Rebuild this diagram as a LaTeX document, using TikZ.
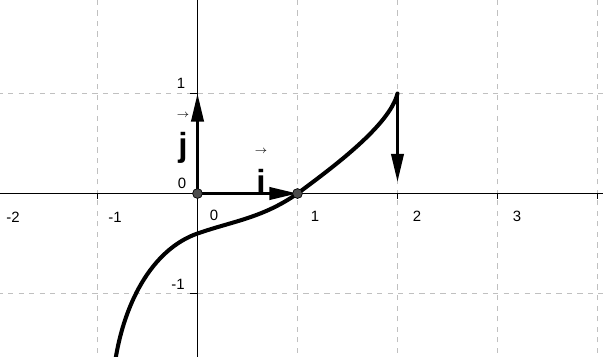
\documentclass[tikz,border=0pt]{standalone}
\usepackage{amsmath}
\usepackage{fontspec}
\setmainfont{Liberation Sans}
\usetikzlibrary{arrows.meta}
\newcommand{\veclabel}[1]{\ensuremath{\overset{\raisebox{5pt}{\fontsize{6.5}{7}\selectfont$\rightarrow$}}{\textbf{#1}}}}
\definecolor{gridgray}{RGB}{192,192,192}
\definecolor{dotgray}{RGB}{77,77,77}
\tikzset{
  gridline/.style={gridgray,line width=0.6pt,dash pattern=on 3pt off 3pt},
  axisline/.style={black,line width=1.1pt},
  ticklabel/.style={font=\fontsize{8.5}{10}\selectfont,inner sep=0pt},
  veclab/.style={font=\fontsize{19}{22}\selectfont,inner sep=0pt},
  vecarrow/.style={line width=1.7pt,-{Triangle[length=16pt,width=7pt]}},
  graphcurve/.style={line width=2.3pt,line cap=round,line join=round},
  ptdot/.style={circle,fill=dotgray,draw=black,line width=0.4pt,inner sep=0pt,minimum size=5.6pt}
}
\begin{document}
\begin{tikzpicture}[x=2cm,y=2cm]
			\useasboundingbox (-1.975,-1.625) rectangle (4.055,1.935);
			\clip (-1.975,-1.625) rectangle (4.055,1.935);
			\fill[white] (-1.975,-1.625) rectangle (4.055,1.935);
			%			Luoi
			\foreach \gx in {-1,1,2,3,4}
				\draw[gridline] (\gx,-1.7) -- (\gx,2);
			\foreach \gy in {-1,1}
				\draw[gridline] (-2,\gy) -- (4.1,\gy);
			%			Truc
			\draw[axisline] (-2,0) -- (4.1,0);
			\draw[axisline] (0,-1.7) -- (0,2);
			\foreach \gx in {-1,1,2,3,4}
				\draw[axisline,line width=0.8pt] (\gx,0) -- (\gx,-0.05);
			\foreach \gy in {-1,1}
				\draw[axisline,line width=0.8pt] (0,\gy) -- (-0.07,\gy);
			\node[ticklabel] (xm2) at (-1.845,-0.235) {-2};
			\node[ticklabel] (xm1) at (-0.825,-0.235) {-1};
			\node[ticklabel] (x0) at (0.165,-0.215) {0};
			\node[ticklabel] (x1) at (1.175,-0.225) {1};
			\node[ticklabel] (x2) at (2.195,-0.225) {2};
			\node[ticklabel] (x3) at (3.195,-0.225) {3};
			\node[ticklabel] (y1) at (-0.165,1.105) {1};
			\node[ticklabel] (y0) at (-0.155,0.105) {0};
			\node[ticklabel] (ym1) at (-0.195,-0.905) {-1};
			%			Do thi
			\draw[graphcurve] (-0.84,-1.8) .. controls (-0.76,-1.1) and (-0.45,-0.5575) .. (0,-0.4)
				.. controls (0.35,-0.2775) and (0.65,-0.245) .. (1,0)
				.. controls (1.35,0.26) and (1.92,0.68) .. (2,1);
			%			Vecto
			\coordinate (O) at (0,0);
			\coordinate (J) at (0,1);
			\coordinate (B) at (1,0);
			\coordinate (C) at (2,1);
			\coordinate (D) at (2,0.115);
			\draw[vecarrow] (O) -- (J);
			\draw[vecarrow] (O) -- (B);
			\draw[vecarrow] (C) -- (D);
			\node[ptdot] (Odot) at (O) {};
			\node[ptdot] (Bdot) at (B) {};
			\node[veclab,anchor=base] (jlab) at (-0.145,0.37) {\veclabel{j}};
			\node[veclab,anchor=base] (ilab) at (0.635,0.005) {\veclabel{i}};
		\end{tikzpicture}
\end{document}
